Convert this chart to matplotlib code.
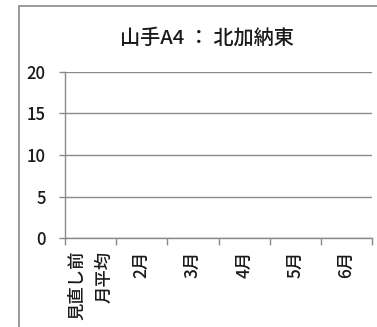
import matplotlib
matplotlib.use("Agg")
import matplotlib.pyplot as plt
from matplotlib.patches import Rectangle
from matplotlib.ticker import FixedLocator

plt.rcParams['font.family'] = ['Noto Sans CJK JP', 'DejaVu Sans']

title = "山手A4 ： 北加納東"
categories = ["見直し前\n月平均", "2月", "3月", "4月", "5月", "6月"]
values = [0, 0, 0, 0, 0, 0]
yticks = [0, 5, 10, 15, 20]

W, H = 377, 327
fig = plt.figure(figsize=(W / 100, H / 100), dpi=100)
fig.patch.set_facecolor("white")

# outer chart frame (cropped at right and bottom)
fig.patches.append(Rectangle((19 / W, -0.05), 1.2, 1 - 6 / H + 0.05,
                             transform=fig.transFigure, fill=False,
                             edgecolor="#8a8a8a", linewidth=1.2))

ax = fig.add_axes([65 / W, 1 - 238 / H, (372 - 65) / W, (238 - 72) / H])
x = list(range(len(categories)))
ax.bar(x, values, width=0.6, color="#4f81bd")
ax.set_xlim(-0.5, len(categories) - 0.5)
ax.set_ylim(0, 20)
ax.set_yticks(yticks)
ax.set_yticklabels([str(v) for v in yticks], fontsize=12, color="#1a1a1a",
                   fontweight="medium")
ax.grid(axis="y", color="#8a8a8a", linewidth=1.0)
ax.set_axisbelow(True)

ax.set_xticks(x)
ax.set_xticklabels(categories, rotation=90, fontsize=12.5, color="#1a1a1a",
                   va="top", ha="center", linespacing=1.65,
                   multialignment="right", fontweight="medium")
ax.xaxis.set_minor_locator(FixedLocator([i - 0.5 for i in range(len(categories) + 1)]))
ax.tick_params(axis="x", which="major", length=0, pad=9)
ax.tick_params(axis="x", which="minor", length=5, color="#8a8a8a", width=1.0)
ax.tick_params(axis="y", length=4, color="#8a8a8a", width=1.0, pad=10)

for s in ["top", "right"]:
    ax.spines[s].set_visible(False)
ax.spines["left"].set_color("#8a8a8a")
ax.spines["bottom"].set_color("#8a8a8a")
ax.spines["left"].set_linewidth(1.0)
ax.spines["bottom"].set_linewidth(1.0)

fig.text(207 / W, 1 - 38 / H, title, ha="center", va="center",
         fontsize=14.5, color="#1a1a1a", fontweight="medium")

fig.savefig("out.png", dpi=100, facecolor="white")
